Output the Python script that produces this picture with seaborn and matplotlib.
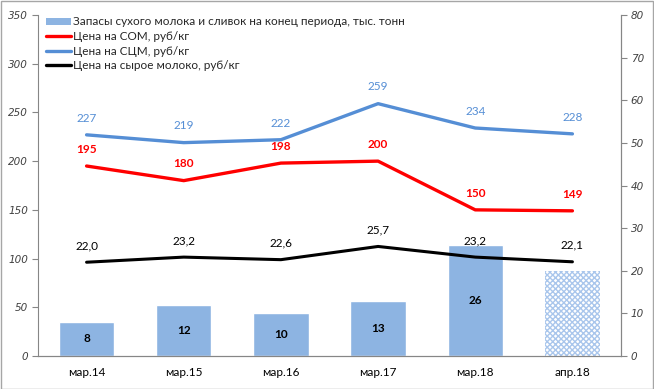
import numpy as np
import pandas as pd
import matplotlib.pyplot as plt
import seaborn as sns
from matplotlib.patches import Rectangle, Patch
from matplotlib.lines import Line2D

# Data
periods = ["мар.14", "мар.15", "мар.16", "мар.17", "мар.18", "апр.18"]
stocks = [8, 12, 10, 13, 26, 20]          # тыс. тонн, right axis
price_som = [195, 180, 198, 200, 150, 149]  # руб/кг, left axis
price_scm = [227, 219, 222, 259, 234, 228]  # руб/кг, left axis
price_raw = [22.0, 23.2, 22.6, 25.7, 23.2, 22.1]  # руб/кг, right axis

bar_labels = ["8", "12", "10", "13", "26", ""]
left_ticks = list(range(0, 351, 50))
right_ticks = list(range(0, 81, 10))

df = pd.DataFrame({
    "period": periods,
    "pos": np.arange(len(periods)),
    "stocks": stocks,
    "som": price_som,
    "scm": price_scm,
    "raw": price_raw,
})

sns.set_style("white")
plt.rcParams["font.family"] = ["Lato", "DejaVu Sans"]

BAR = "#8db4e2"
BLUE = "#558ed5"
RED = "#ff0000"
GREY = "#868686"
TXT = "#404040"

fig = plt.figure(figsize=(6.54, 3.89), dpi=100)
ax_r = fig.add_axes([38 / 654, 1 - 356 / 389, (621 - 38) / 654, (356 - 15) / 389])

# Bars on the right-scale axis (drawn first, underneath)
sns.barplot(data=df, x="period", y="stocks", color=BAR, width=0.57,
            saturation=1, ax=ax_r, zorder=1)
last = ax_r.patches[-1]
last.set_facecolor("white")
last.set_edgecolor("#a9c6ec")
last.set_hatch("xxxxxx")
last.set_linewidth(0)

for p, lab in zip(ax_r.patches, bar_labels):
    if lab:
        ax_r.text(p.get_x() + p.get_width() / 2, p.get_height() / 2, lab,
                  ha="center", va="center", fontsize=8.5, fontweight="bold",
                  color="black")

# Raw milk price on right axis
sns.lineplot(data=df, x="pos", y="raw", color="black", linewidth=2.2,
             sort=False, ax=ax_r, zorder=3)
for x, v in zip(df["pos"], price_raw):
    ax_r.annotate(f"{v:.1f}".replace(".", ","), (x, v), xytext=(0, 12),
                  textcoords="offset points", ha="center", va="center",
                  fontsize=8.5, color="black")

ax_r.set_ylim(0, 80)
ax_r.set_xlim(-0.5, len(periods) - 0.5)

# Left-scale axis for prices
ax_l = ax_r.twinx()
sns.lineplot(data=df, x="pos", y="som", color=RED, linewidth=2.4,
             sort=False, ax=ax_l)
sns.lineplot(data=df, x="pos", y="scm", color=BLUE, linewidth=2.4,
             sort=False, ax=ax_l)
for x, v in zip(df["pos"], price_som):
    ax_l.annotate(str(v), (x, v), xytext=(0, 12), textcoords="offset points",
                  ha="center", va="center", fontsize=8.5, fontweight="bold",
                  color=RED)
for x, v in zip(df["pos"], price_scm):
    ax_l.annotate(str(v), (x, v), xytext=(0, 12), textcoords="offset points",
                  ha="center", va="center", fontsize=8.5, color=BLUE)
ax_l.set_ylim(0, 350)

# put the scales on their sides (twinx flips the original to the left)
ax_r.yaxis.set_ticks_position("right")
ax_r.yaxis.set_label_position("right")
ax_l.yaxis.set_ticks_position("left")
ax_l.yaxis.set_label_position("left")

tick_font = dict(fontstyle="italic", family="DejaVu Sans", fontsize=7.5,
                 color=TXT)
ax_r.set_yticks(right_ticks)
ax_r.set_yticklabels([str(t) for t in right_ticks], **tick_font)
ax_l.set_yticks(left_ticks)
ax_l.set_yticklabels([str(t) for t in left_ticks], **tick_font)

for a in (ax_r, ax_l):
    a.set_xlabel("")
    a.set_ylabel("")
    a.spines["top"].set_visible(False)
    for s in ("left", "right", "bottom"):
        a.spines[s].set_color(GREY)
        a.spines[s].set_linewidth(0.8)
    a.tick_params(axis="y", length=4, color=GREY, pad=3)
ax_l.spines["right"].set_visible(True)
ax_r.spines["left"].set_visible(False)

ax_r.set_xticks(df["pos"])
ax_r.set_xticklabels(periods)
ax_r.set_xticks(np.arange(-0.5, len(periods)), minor=True)
ax_r.tick_params(axis="x", which="major", length=0, labelsize=8.5,
                 labelcolor="black", pad=8)
ax_r.tick_params(axis="x", which="minor", length=4, color=GREY)
ax_l.tick_params(axis="x", which="both", length=0)

handles = [
    Patch(facecolor=BAR, edgecolor="none"),
    Line2D([], [], color=RED, linewidth=2.4),
    Line2D([], [], color=BLUE, linewidth=2.4),
    Line2D([], [], color="black", linewidth=2.4),
]
labels = [
    "Запасы сухого молока и сливок на конец периода, тыс. тонн",
    "Цена на СОМ, руб/кг",
    "Цена на СЦМ, руб/кг",
    "Цена на сырое молоко, руб/кг",
]
ax_l.legend(handles, labels, loc="upper left", bbox_to_anchor=(0.0, 1.02),
            frameon=False, fontsize=8.5, handlelength=2.1, handleheight=0.5,
            handletextpad=0.2, labelspacing=0.3, borderaxespad=0.3)

fig.patches.append(Rectangle((0.001, 0.001), 0.998, 0.997,
                             transform=fig.transFigure, fill=False,
                             edgecolor="#a6a6a6", linewidth=1))

fig.savefig("out.png", dpi=100)
